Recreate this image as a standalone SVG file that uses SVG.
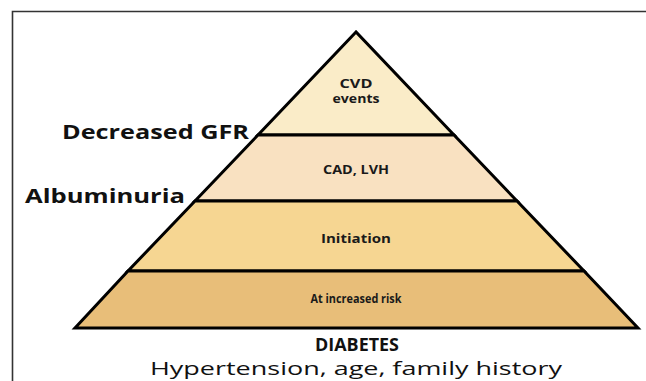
<svg xmlns="http://www.w3.org/2000/svg" width="646" height="381" viewBox="0 0 646 381">
  <style>
    .band { stroke: #000; stroke-width: 3; stroke-linejoin: miter; }
    .in { font-family: "Open Sans", "Liberation Sans", sans-serif; font-weight: bold; font-size: 11.5px; fill: #1a1a1a; text-anchor: middle; }
    .side { font-family: "Open Sans", "Liberation Sans", sans-serif; font-weight: bold; font-size: 19px; fill: #111; }
    .bottom { font-family: "Open Sans", "Liberation Sans", sans-serif; font-size: 18px; fill: #111; text-anchor: middle; }
  </style>
  <rect width="646" height="381" fill="#fff"/>
  <g id="frame">
    <path d="M12.5 381 V11.5 H646" fill="none" stroke="#333" stroke-width="1.6"/>
  </g>
  <g id="pyramid">
    <g id="band-cvd">
      <polygon class="band" points="356,32 258,135 454,135" fill="#faecc8"/>
      <text class="in" x="356" y="88" textLength="33" lengthAdjust="spacingAndGlyphs">CVD</text>
      <text class="in" x="356" y="103" textLength="47" lengthAdjust="spacingAndGlyphs">events</text>
    </g>
    <g id="band-cad">
      <polygon class="band" points="258,135 454,135 517,201 195,201" fill="#f9e1c1"/>
      <text class="in" x="356" y="174" textLength="66" lengthAdjust="spacingAndGlyphs">CAD, LVH</text>
    </g>
    <g id="band-initiation">
      <polygon class="band" points="195,201 517,201 584,271 128,271" fill="#f6d692"/>
      <text class="in" x="356" y="243" textLength="70" lengthAdjust="spacingAndGlyphs">Initiation</text>
    </g>
    <g id="band-risk">
      <polygon class="band" points="128,271 584,271 638,328 75,328" fill="#e8be79"/>
      <text class="in" x="356" y="303" textLength="91" lengthAdjust="spacingAndGlyphs">At increased risk</text>
    </g>
  </g>
  <g id="labels">
    <text class="side" x="62" y="139" textLength="187" lengthAdjust="spacingAndGlyphs">Decreased GFR</text>
    <text class="side" x="25" y="203" textLength="160" lengthAdjust="spacingAndGlyphs">Albuminuria</text>
    <text class="bottom" x="357" y="351" font-weight="bold" textLength="84" lengthAdjust="spacingAndGlyphs">DIABETES</text>
    <text class="bottom" x="356" y="375" textLength="412" lengthAdjust="spacingAndGlyphs">Hypertension, age, family history</text>
  </g>
</svg>
